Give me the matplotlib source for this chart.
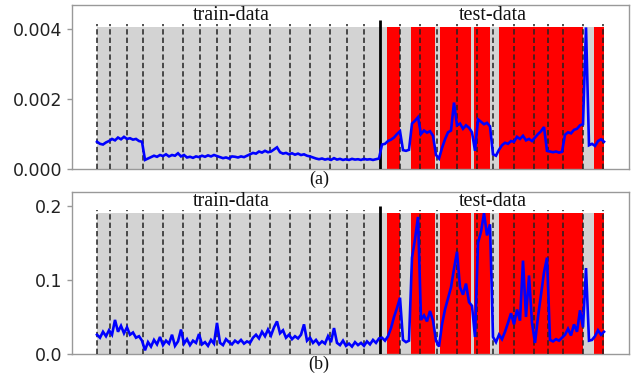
import numpy as np
import matplotlib
matplotlib.use("Agg")
import matplotlib.pyplot as plt

# ---------------- data ----------------
# sampling interval of the series (time units)
step = 3
# panel (a) loss, in units of 1e-3
loss_a_milli = [
    0.78, 0.72, 0.70, 0.76, 0.80, 0.86, 0.82, 0.90, 0.85, 0.92,
    0.86, 0.88, 0.84, 0.86, 0.80, 0.78, 0.26, 0.30, 0.34, 0.38,
    0.35, 0.40, 0.37, 0.42, 0.36, 0.40, 0.38, 0.45, 0.36, 0.40,
    0.33, 0.35, 0.32, 0.36, 0.34, 0.38, 0.35, 0.39, 0.36, 0.40,
    0.37, 0.34, 0.31, 0.33, 0.30, 0.36, 0.35, 0.33, 0.36, 0.34,
    0.38, 0.42, 0.46, 0.44, 0.50, 0.47, 0.52, 0.48, 0.50, 0.56,
    0.62, 0.48, 0.44, 0.46, 0.42, 0.45, 0.41, 0.44, 0.40, 0.42,
    0.38, 0.36, 0.33, 0.30, 0.28, 0.30, 0.27, 0.29, 0.26, 0.31,
    0.27, 0.29, 0.26, 0.28, 0.26, 0.29, 0.27, 0.28, 0.26, 0.29,
    0.27, 0.28, 0.26, 0.28, 0.30, 0.70, 0.72, 0.80, 0.84, 0.90,
    1.00, 1.08, 0.54, 0.52, 0.55, 1.30, 1.38, 1.48, 1.00, 1.10,
    1.04, 1.08, 0.95, 0.40, 0.30, 0.60, 0.85, 1.05, 1.10, 1.90,
    1.25, 1.30, 1.15, 1.25, 1.18, 1.05, 0.52, 1.42, 1.35, 1.28,
    1.32, 1.22, 0.42, 0.38, 0.55, 0.68, 0.75, 0.72, 0.80, 0.78,
    0.92, 0.86, 0.95, 0.82, 0.86, 0.80, 0.90, 1.00, 1.08, 1.20,
    0.52, 0.50, 0.48, 0.50, 0.47, 0.49, 0.98, 1.05, 1.02, 1.12,
    1.15, 1.25, 1.28, 4.05, 0.68, 0.72, 0.66, 0.80, 0.85, 0.78,
]
# panel (b) loss, in units of 1e-2
loss_b_centi = [
    2.6, 2.2, 3.0, 2.4, 3.2, 2.6, 4.6, 3.0, 3.8, 2.8,
    3.6, 2.6, 2.9, 2.2, 2.4, 1.8, 0.5, 1.6, 1.0, 1.9,
    1.3, 2.3, 1.2, 1.8, 1.4, 2.6, 1.1, 1.7, 3.3, 1.4,
    2.0, 1.2, 1.8, 1.5, 2.7, 1.3, 1.6, 1.1, 1.9, 1.4,
    4.2, 1.5, 1.2, 2.0, 1.6, 1.3, 1.8, 1.5, 1.9, 1.4,
    1.7, 1.5, 2.2, 2.6, 2.1, 3.0, 2.4, 3.3, 2.5, 3.6,
    4.4, 2.8, 3.2, 2.2, 2.6, 2.0, 2.4, 2.1, 2.6, 4.0,
    1.8, 2.2, 1.5, 1.9, 1.3, 1.7, 1.4, 2.4, 1.6, 3.5,
    1.5, 1.2, 1.8, 1.1, 1.4, 1.0, 1.6, 1.2, 1.5, 1.1,
    1.7, 1.3, 1.9, 1.5, 2.1, 2.2, 1.8, 2.4, 3.5, 5.0,
    6.2, 7.6, 1.9, 1.6, 1.8, 13.0, 15.5, 18.5, 4.6, 5.2,
    4.4, 5.8, 4.5, 1.8, 1.0, 4.0, 6.0, 7.5, 9.0, 11.5,
    13.8, 9.0, 8.0, 9.5, 7.0, 6.5, 2.3, 15.0, 16.5, 19.0,
    16.0, 17.5, 2.3, 1.6, 2.6, 2.0, 3.0, 4.2, 5.5, 4.0,
    6.0, 4.5, 12.6, 5.0, 10.6, 4.2, 1.5, 5.0, 8.0, 11.0,
    13.0, 1.9, 1.7, 2.0, 1.8, 2.2, 2.6, 3.4, 2.5, 4.0,
    3.0, 5.9, 3.6, 11.6, 1.8, 1.9, 2.4, 3.2, 2.6, 3.0,
]
# session boundaries (dashed lines), time units
session_bounds = [0, 13, 30, 46, 66, 86, 103, 120, 133, 153, 173, 193, 213,
                  233, 250, 267, 303, 323, 340, 360, 380, 396, 417, 437, 451,
                  466, 486, 506]
train_test_split = 283
# anomalous (red) intervals
anomaly_spans = [(290, 303), (314, 338), (343, 374), (377, 393), (402, 486),
                 (497, 507)]
total_len = 507

panels = [
    dict(vals=np.array(loss_a_milli) * 1e-3, ylim=0.00469, shade=0.00406,
         dash=0.00414, split=0.00426, yticks=[0.0, 0.002, 0.004],
         ylabels=["0.000", "0.002", "0.004"], text_y=0.00440, tag="(a)"),
    dict(vals=np.array(loss_b_centi) * 1e-2, ylim=0.219, shade=0.1906,
         dash=0.194, split=0.200, yticks=[0.0, 0.1, 0.2],
         ylabels=["0.0", "0.1", "0.2"], text_y=0.2054, tag="(b)"),
]

fig = plt.figure(figsize=(6.36, 3.77), dpi=100)
axes_rects = [[0.1132, 0.5517, 0.8758, 0.4350],
              [0.1132, 0.0610, 0.8758, 0.4305]]
serif = ["Liberation Serif", "DejaVu Serif"]

for rect, p in zip(axes_rects, panels):
    ax = fig.add_axes(rect)
    vals = p["vals"]
    t = np.arange(len(vals)) * step
    ax.fill_between([0, total_len], 0, p["shade"], color="#d3d3d3", lw=0,
                    zorder=1)
    for a, b in anomaly_spans:
        ax.fill_between([a, b], 0, p["shade"], color="#ff0000", lw=0,
                        zorder=2)
    ax.vlines(session_bounds, 0, p["dash"], colors="#222222",
              linestyles=(0, (3.5, 2.0)), lw=1.1, zorder=3)
    ax.vlines([train_test_split], 0, p["split"], colors="black", lw=2.0,
              zorder=3)
    ax.plot(t, vals, color="#0000ff", lw=1.9, zorder=4,
            solid_joinstyle="miter")
    ax.set_xlim(-25, 532)
    ax.set_ylim(0, p["ylim"])
    ax.set_xticks([])
    ax.set_yticks(p["yticks"])
    ax.set_yticklabels(p["ylabels"])
    ax.tick_params(axis="y", labelsize=12.5, colors="#999999",
                   labelcolor="#222222", length=3.5, width=1)
    for s in ax.spines.values():
        s.set_color("#999999")
        s.set_linewidth(1.0)
    ax.text(134, p["text_y"], "train-data", ha="center", va="center",
            fontsize=14.5, family=serif, color="#111111", zorder=5)
    ax.text(396, p["text_y"], "test-data", ha="center", va="center",
            fontsize=14.5, family=serif, color="#111111", zorder=5)

fig.text(319 / 636, 1 - 179 / 377, "(a)", ha="center", va="center",
         fontsize=13, family=serif, color="#111111")
fig.text(319 / 636, 1 - 364 / 377, "(b)", ha="center", va="center",
         fontsize=13, family=serif, color="#111111")

fig.savefig("out.png", dpi=100)
